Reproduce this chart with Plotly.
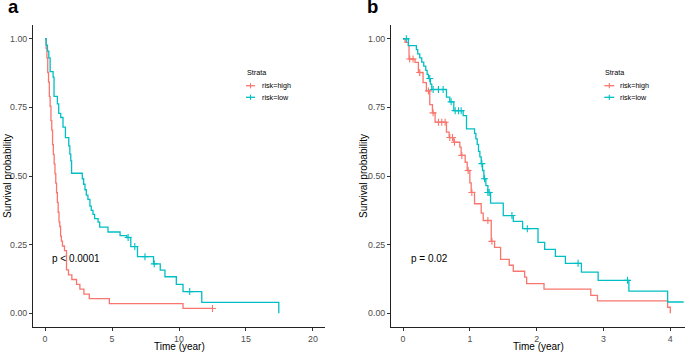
import plotly.graph_objects as go

# ---------------- data ----------------
# Panel a
a_high_time = [0, 0.08, 0.14, 0.20, 0.26, 0.32, 0.38, 0.44, 0.50, 0.56, 0.62, 0.68, 0.74, 0.80, 0.86,
               0.92, 0.98, 1.04, 1.10, 1.16, 1.22, 1.30, 1.45, 1.60, 1.75, 2.00, 2.35, 2.60, 2.90,
               3.30, 4.80, 10.30, 12.50]
a_high_surv = [1.0, 0.965, 0.93, 0.877, 0.842, 0.789, 0.754, 0.702, 0.667, 0.614, 0.579, 0.544, 0.509,
               0.474, 0.439, 0.404, 0.368, 0.333, 0.316, 0.281, 0.263, 0.245, 0.228, 0.158, 0.140,
               0.123, 0.105, 0.088, 0.070, 0.053, 0.035, 0.0175, 0.0175]
a_high_censor = [12.5]

a_low_time = [0, 0.08, 0.18, 0.28, 0.38, 0.60, 0.67, 0.92, 1.02, 1.17, 1.34, 1.52, 1.77, 1.85, 1.92,
              1.98, 2.78, 2.88, 2.98, 3.08, 3.20, 3.35, 3.45, 3.58, 3.70, 3.96, 4.08, 4.70, 5.60,
              6.10, 6.40, 6.90, 8.10, 8.60, 8.95, 9.80, 10.30, 11.70, 17.45]
a_low_surv = [1.0, 0.977, 0.955, 0.93, 0.88, 0.86, 0.79, 0.763, 0.728, 0.713, 0.678, 0.64, 0.61, 0.58,
              0.555, 0.51, 0.49, 0.47, 0.45, 0.43, 0.415, 0.39, 0.375, 0.36, 0.345, 0.332, 0.314,
              0.296, 0.283, 0.276, 0.243, 0.206, 0.18, 0.157, 0.133, 0.105, 0.079, 0.04, 0.0]
a_low_censor = [6.2, 6.7, 7.46, 8.15, 10.8]

# Panel b
b_high_time = [0, 0.03, 0.08, 0.09, 0.18, 0.23, 0.30, 0.35, 0.40, 0.44, 0.48, 0.65, 0.69, 0.76, 0.85,
               0.87, 0.93, 0.96, 1.00, 1.02, 1.07, 1.17, 1.20, 1.32, 1.37, 1.46, 1.59, 1.65, 1.82,
               1.85, 2.11, 2.81, 2.91, 3.96, 4.0]
b_high_surv = [1.0, 0.987, 0.975, 0.926, 0.914, 0.877, 0.84, 0.81, 0.76, 0.73, 0.696, 0.66, 0.64,
               0.623, 0.605, 0.575, 0.55, 0.52, 0.475, 0.44, 0.399, 0.365, 0.338, 0.262, 0.24,
               0.196, 0.175, 0.153, 0.132, 0.108, 0.088, 0.065, 0.045, 0.022, 0.0]
b_high_censor = [0.10, 0.15, 0.25, 0.38, 0.45, 0.53, 0.58, 0.63, 0.70, 0.74, 0.77, 0.88, 0.975,
                 1.03, 1.27, 1.33]

b_low_time = [0, 0.08, 0.20, 0.22, 0.25, 0.28, 0.31, 0.34, 0.36, 0.38, 0.41, 0.43, 0.65, 0.70, 0.76,
              0.90, 0.95, 1.07, 1.09, 1.11, 1.13, 1.15, 1.17, 1.19, 1.21, 1.24, 1.27, 1.31, 1.50,
              1.65, 1.79, 2.02, 2.12, 2.28, 2.43, 2.67, 2.92, 3.38, 3.96, 4.2]
b_low_surv = [1.0, 0.975, 0.96, 0.945, 0.93, 0.915, 0.90, 0.885, 0.87, 0.855, 0.835, 0.815, 0.787,
              0.77, 0.738, 0.72, 0.672, 0.655, 0.635, 0.615, 0.59, 0.57, 0.545, 0.52, 0.49, 0.465,
              0.44, 0.401, 0.356, 0.335, 0.308, 0.258, 0.233, 0.207, 0.182, 0.15, 0.12, 0.081,
              0.041, 0.041]
b_low_censor = [0.05, 0.40, 0.45, 0.53, 0.60, 0.72, 0.78, 0.83, 0.87, 1.18, 1.22, 1.27, 1.29, 1.63,
                1.86, 2.62, 3.36]

strata_labels = ["risk=high", "risk=low"]
pvalue_labels = ["p < 0.0001", "p = 0.02"]
y_tick_vals = [0, 0.25, 0.5, 0.75, 1.0]
y_tick_text = ["0.00", "0.25", "0.50", "0.75", "1.00"]
a_x_ticks = [0, 5, 10, 15, 20]
b_x_ticks = [0, 1, 2, 3, 4]

# ---------------- styling ----------------
W, H = 685, 352
RED = "#F8766D"
CYAN = "#00BFC4"
FONT = "Liberation Sans, Arial, sans-serif"


def px(x):
    return x / W


def py(y):
    return 1 - y / H


def surv_at(times, surv, t):
    val = surv[0]
    for ti, si in zip(times, surv):
        if ti <= t:
            val = si
    return val


fig = go.Figure()

panels = [
    ("x", "y", [(a_high_time, a_high_surv, a_high_censor, RED),
                (a_low_time, a_low_surv, a_low_censor, CYAN)]),
    ("x2", "y2", [(b_high_time, b_high_surv, b_high_censor, RED),
                  (b_low_time, b_low_surv, b_low_censor, CYAN)]),
]

for xa, ya, series in panels:
    for times, surv, cens, col in series:
        fig.add_trace(go.Scatter(x=times, y=surv, mode="lines", line=dict(color=col, width=1.3, shape="hv"),
                                 xaxis=xa, yaxis=ya, showlegend=False, hoverinfo="skip"))
        fig.add_trace(go.Scatter(x=cens, y=[surv_at(times, surv, c) for c in cens], mode="markers",
                                 marker=dict(symbol="cross-thin", size=5, color=col,
                                             line=dict(color=col, width=1.1)),
                                 xaxis=xa, yaxis=ya, showlegend=False, hoverinfo="skip"))

axis_common = dict(showline=True, linecolor="#222222", linewidth=1, ticks="outside", ticklen=3,
                   tickwidth=1, tickcolor="#333333", showgrid=False, zeroline=False,
                   tickfont=dict(family=FONT, size=8.8, color="#4D4D4D"))

ydom = [py(327), py(25)]
fig.update_layout(
    width=W, height=H, margin=dict(l=0, r=0, t=0, b=0),
    paper_bgcolor="white", plot_bgcolor="white", showlegend=False,
    font=dict(family=FONT),
    xaxis=dict(domain=[px(33), px(325)], range=[-0.9, 20.9], tickvals=a_x_ticks, anchor="y", **axis_common),
    yaxis=dict(domain=ydom, range=[-0.05, 1.05], tickvals=y_tick_vals, ticktext=y_tick_text,
               anchor="x", **axis_common),
    xaxis2=dict(domain=[px(391), 1.0], range=[-0.18, 4.22], tickvals=b_x_ticks, anchor="y2", **axis_common),
    yaxis2=dict(domain=ydom, range=[-0.05, 1.05], tickvals=y_tick_vals, ticktext=y_tick_text,
                anchor="x2", **axis_common),
)

annotations = []
shapes = []

# panel letters
for letter, xl in [("a", 6), ("b", 365)]:
    annotations.append(dict(text="<b>%s</b>" % letter, x=px(xl), y=py(19), xref="paper", yref="paper",
                            xanchor="left", yanchor="bottom", showarrow=False,
                            font=dict(family=FONT, size=18.5, color="black")))

# axis titles
for xc in [179, 538]:
    annotations.append(dict(text="Time (year)", x=px(xc), y=py(346.5), xref="paper", yref="paper",
                            xanchor="center", yanchor="middle", showarrow=False,
                            font=dict(family=FONT, size=10, color="black")))
for xc in [7, 363]:
    annotations.append(dict(text="Survival probability", x=px(xc), y=py(176), xref="paper", yref="paper",
                            xanchor="center", yanchor="middle", textangle=-90, showarrow=False,
                            font=dict(family=FONT, size=10, color="black")))

# p-values
annotations.append(dict(text=pvalue_labels[0], x=0.35, y=0.2, xref="x", yref="y", xanchor="left",
                        yanchor="middle", showarrow=False, font=dict(family=FONT, size=10, color="black")))
annotations.append(dict(text=pvalue_labels[1], x=0.084, y=0.2, xref="x2", yref="y2", xanchor="left",
                        yanchor="middle", showarrow=False, font=dict(family=FONT, size=10, color="black")))

# legends (manual, ggplot style)
for lx0, lx1, tx in [(246, 255, 260.5), (604.3, 614.3, 618.5)]:
    annotations.append(dict(text="Strata", x=px(lx0 - 1), y=py(72), xref="paper", yref="paper",
                            xanchor="left", yanchor="middle", showarrow=False,
                            font=dict(family=FONT, size=7.2, color="black")))
    for lab, col, yy in [(strata_labels[0], RED, 85.7), (strata_labels[1], CYAN, 97.3)]:
        shapes.append(dict(type="line", xref="paper", yref="paper", x0=px(lx0), x1=px(lx1),
                           y0=py(yy), y1=py(yy), line=dict(color=col, width=1.3)))
        xm = (lx0 + lx1) / 2
        shapes.append(dict(type="line", xref="paper", yref="paper", x0=px(xm), x1=px(xm),
                           y0=py(yy - 2.6), y1=py(yy + 2.6), line=dict(color=col, width=1.1)))
        annotations.append(dict(text=lab, x=px(tx - 1), y=py(yy), xref="paper", yref="paper",
                                xanchor="left", yanchor="middle", showarrow=False,
                                font=dict(family=FONT, size=7.2, color="black")))

fig.update_layout(annotations=annotations, shapes=shapes)
fig.write_html("out.html", config={"displayModeBar": False, "staticPlot": True},
               post_script="document.body.style.margin='0px';document.body.style.overflow='hidden';")
